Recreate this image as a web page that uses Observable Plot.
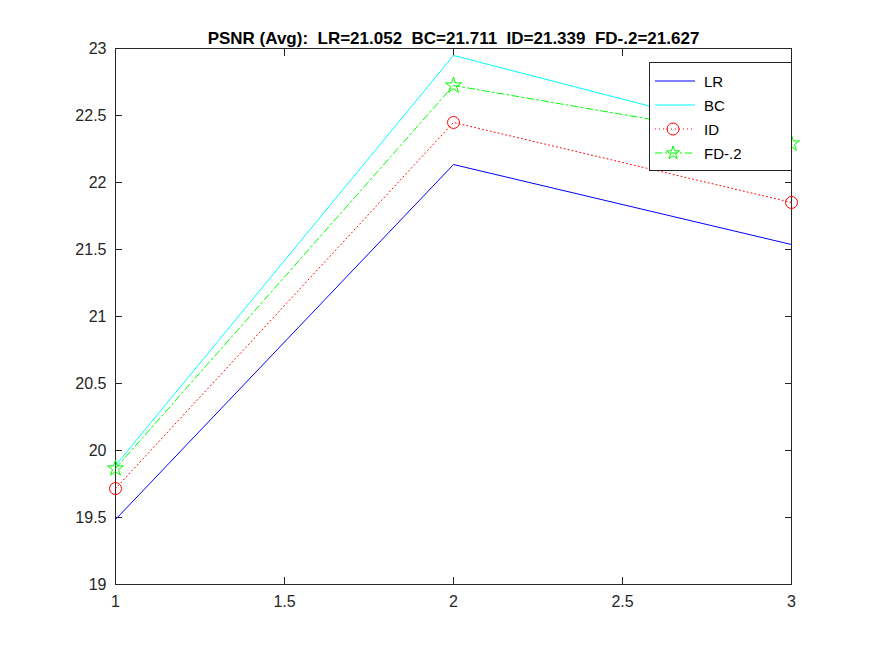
<!DOCTYPE html>
<html><head><meta charset="utf-8">
<script src="https://cdn.jsdelivr.net/npm/d3@7"></script>
<script src="https://cdn.jsdelivr.net/npm/@observablehq/plot@0.6"></script>
<style>
body{margin:0;background:#fff;font-family:"Liberation Sans",Arial,sans-serif}
#wrap{position:relative;width:875px;height:656px}
#legend{position:absolute;left:649px;top:62px;width:141px;height:107px;border:1px solid #262626;background:#fff;font-size:15px;color:#000}
.row{position:absolute;left:0;height:20px;display:flex;align-items:center}
.row span{margin-left:6px}
svg text{font-size:16px}
</style></head><body>
<div id="wrap"><div id="plot"></div><div id="legend"></div></div>
<script>
const xs = [1, 2, 3];
const lr = [19.485, 22.134, 21.537];
const bc = [19.888, 22.948, 22.297];
const id = [19.716, 22.448, 21.851];
const fd = [19.866, 22.724, 22.291];
const xTicks = [1, 1.5, 2, 2.5, 3];
const yTicks = [19, 19.5, 20, 20.5, 21, 21.5, 22, 22.5, 23];
const title = "PSNR (Avg):  LR=21.052  BC=21.711  ID=21.339  FD-.2=21.627";

const series = [
  {name: "LR", ys: lr, stroke: "#0000ff", dash: null, marker: null},
  {name: "BC", ys: bc, stroke: "#00ffff", dash: null, marker: null},
  {name: "ID", ys: id, stroke: "#ff0000", dash: "1,3", marker: "circle"},
  {name: "FD-.2", ys: fd, stroke: "#00ff00", dash: "7,3,2,3", marker: "star"}
];

const marks = [];
for (const s of series) {
  const pts = xs.map((x, i) => ({x, y: s.ys[i]}));
  marks.push(Plot.line(pts, {x: "x", y: "y", stroke: s.stroke, strokeWidth: 1, strokeDasharray: s.dash}));
  if (s.marker) marks.push(Plot.dot(pts, {x: "x", y: "y", stroke: s.stroke, fill: "none", symbol: s.marker, r: s.marker === "star" ? 5 : 6, strokeWidth: 1}));
}

const chart = Plot.plot({
  width: 875, height: 656,
  marginLeft: 115, marginRight: 84, marginTop: 48, marginBottom: 72,
  style: {fontFamily: "Liberation Sans, Arial, sans-serif", fontSize: "16px", color: "#262626", background: "#fff"},
  x: {domain: [1, 3], ticks: xTicks, label: null},
  y: {domain: [19, 23], ticks: yTicks, label: null},
  marks: [
    Plot.frame({stroke: "#262626"}),
    Plot.axisX(xTicks, {anchor: "bottom", tickSize: -7, tickPadding: 18, tickFormat: d => String(d)}),
    Plot.axisX(xTicks, {anchor: "top", tickSize: -7, text: null}),
    Plot.axisY(yTicks, {anchor: "left", tickSize: -7, tickPadding: 16, tickFormat: d => String(d)}),
    Plot.axisY(yTicks, {anchor: "right", tickSize: -7, text: null}),
    ...marks,
    Plot.text([title], {frameAnchor: "top", dy: -17, fontWeight: "bold", fill: "#000", className: "ttl"})
  ]
});
chart.querySelectorAll(".ttl text").forEach(t => t.style.fontSize = "17px");
document.getElementById("plot").append(chart);

const legend = document.getElementById("legend");
series.forEach((s, i) => {
  const row = document.createElement("div");
  row.className = "row";
  row.style.top = (8 + i * 24) + "px";
  let m = "";
  if (s.marker === "circle") m = `<circle cx="23" cy="10" r="6" fill="none" stroke="${s.stroke}"/>`;
  if (s.marker === "star") m = `<path transform="translate(23,10)" d="${d3.symbol(d3.symbolStar, 55)()}" fill="none" stroke="${s.stroke}"/>`;
  row.innerHTML = `<svg width="48" height="20"><line x1="5" x2="45" y1="10" y2="10" stroke="${s.stroke}" ${s.dash ? `stroke-dasharray="${s.dash}"` : ""}/>${m}</svg><span>${s.name}</span>`;
  legend.append(row);
});
</script>
</body></html>
